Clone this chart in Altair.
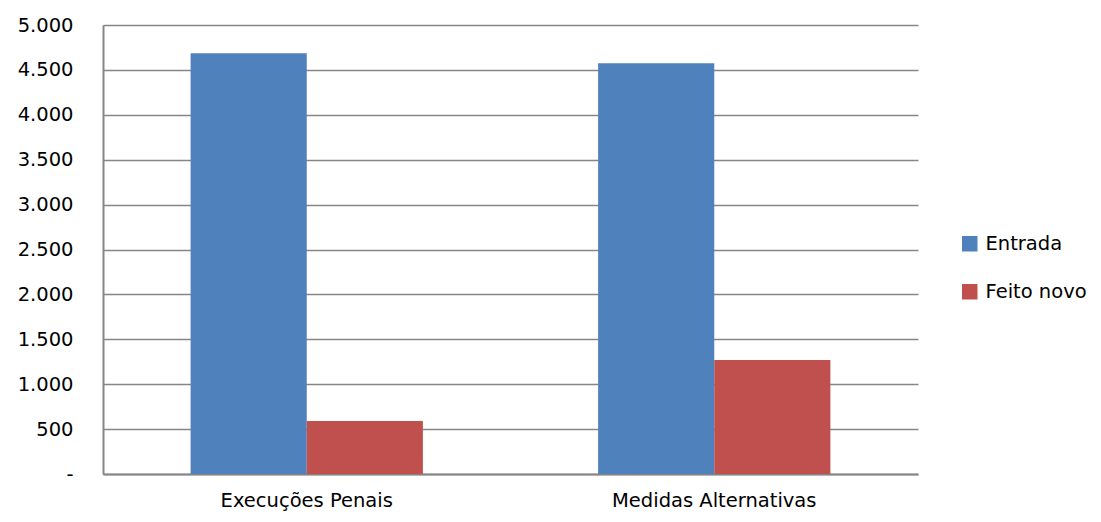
import altair as alt
import pandas as pd

categories = ["Execuções Penais", "Medidas Alternativas"]
series = ["Entrada", "Feito novo"]
entrada = [4685, 4575]
feito_novo = [590, 1270]
colors = ["#4F81BD", "#C0504D"]

rows = []
for i, c in enumerate(categories):
    rows.append({"categoria": c, "serie": "Entrada", "valor": entrada[i]})
    rows.append({"categoria": c, "serie": "Feito novo", "valor": feito_novo[i]})
df = pd.DataFrame(rows)

FONT = "DejaVu Sans"
FS = 19.5
GRAY = "#868686"

chart = alt.Chart(df).mark_bar().encode(
    x=alt.X("categoria:N", sort=categories, title=None,
            scale=alt.Scale(paddingInner=0.43, paddingOuter=0.215),
            axis=alt.Axis(labelAngle=0, labelFontSize=FS, labelFont=FONT, labelColor="black",
                          ticks=False, grid=False, domainColor=GRAY, domainWidth=2,
                          labelPadding=17, labelLimit=400)),
    xOffset=alt.XOffset("serie:N", sort=series),
    y=alt.Y("valor:Q", title=None,
            scale=alt.Scale(domain=[0, 5000]),
            axis=alt.Axis(values=list(range(0, 5001, 500)), labelFontSize=FS, labelFont=FONT,
                          labelColor="black", ticks=False, domainColor=GRAY, domainWidth=2,
                          gridColor=GRAY, gridWidth=1.5, labelPadding=30,
                          labelExpr="datum.value == 0 ? '-\u00a0\u00a0' : replace(format(datum.value, ','), ',', '.')")),
    color=alt.Color("serie:N", sort=series,
                    scale=alt.Scale(domain=series, range=colors),
                    legend=alt.Legend(title=None, orient="none", legendX=857, legendY=209,
                                      symbolType="square", symbolSize=240, symbolStrokeWidth=0,
                                      labelFontSize=FS, labelFont=FONT, labelColor="black",
                                      rowPadding=27, labelOffset=6, labelLimit=300)),
).properties(
    width=815, height=449,
    autosize=alt.AutoSizeParams(type="none"),
    padding={"left": 95, "top": 17, "right": 174, "bottom": 40},
).configure(background="white").configure_view(strokeWidth=0, stroke="transparent")

chart.save("out.html", embed_options={"renderer": "svg", "actions": False})
